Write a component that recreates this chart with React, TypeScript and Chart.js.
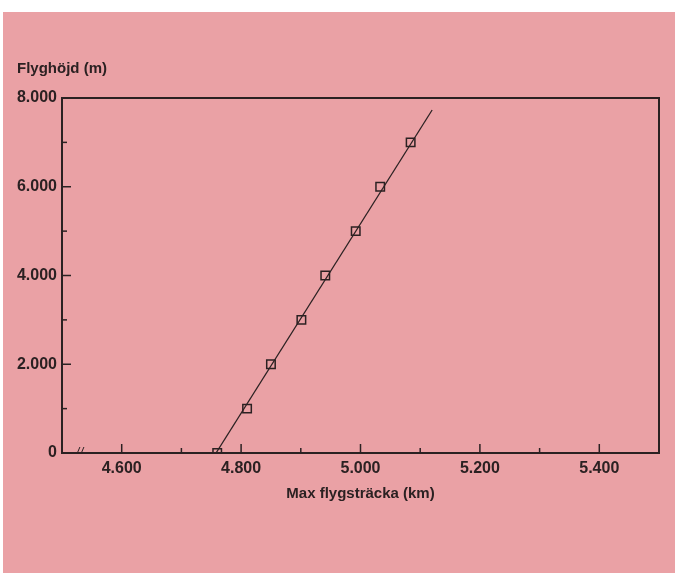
import React, { useEffect, useRef } from 'react';
import { Chart, registerables } from 'chart.js';

Chart.register(...registerables);

// ---- data ----
const altitudes = [0, 1000, 2000, 3000, 4000, 5000, 6000, 7000];
const distances = [4760, 4810, 4850, 4901, 4941, 4992, 5033, 5084];
const fitLineDistances = [4758, 5120];
const fitLineAltitudes = [0, 7730];
const xMajorTicks = [4600, 4800, 5000, 5200, 5400];
const xMinorTicks = [4700, 4900, 5100, 5300];
const yMajorTicks = [0, 2000, 4000, 6000, 8000];
const yMinorTicks = [1000, 3000, 5000, 7000];
const axisBreakAt = 4530;
const yTitle = 'Flyghöjd (m)';
const xTitle = 'Max flygsträcka (km)';

const INK = '#2b2122';
const FONT = '"Liberation Sans", Arial, sans-serif';

function fmt(v: number): string {
  const s = String(Math.round(v));
  return v >= 1000 ? s.slice(0, -3) + '.' + s.slice(-3) : s;
}

const framePlugin = {
  id: 'frameTicks',
  afterDraw(chart: any) {
    const { ctx, chartArea, scales } = chart;
    const xs = scales.x;
    const ys = scales.y;
    const { left, right, top, bottom } = chartArea;
    ctx.save();
    ctx.strokeStyle = INK;
    ctx.lineWidth = 2;
    ctx.strokeRect(left, top, right - left, bottom - top);
    ctx.lineWidth = 1.5;
    const tick = (x1: number, y1: number, x2: number, y2: number) => {
      ctx.beginPath();
      ctx.moveTo(x1, y1);
      ctx.lineTo(x2, y2);
      ctx.stroke();
    };
    xMajorTicks.forEach((v) => { const px = xs.getPixelForValue(v); tick(px, bottom, px, bottom - 9); });
    xMinorTicks.forEach((v) => { const px = xs.getPixelForValue(v); tick(px, bottom, px, bottom - 5); });
    yMajorTicks.slice(1, -1).forEach((v) => { const py = ys.getPixelForValue(v); tick(left, py, left + 9, py); });
    yMinorTicks.forEach((v) => { const py = ys.getPixelForValue(v); tick(left, py, left + 5, py); });
    // axis break marks
    const bx = xs.getPixelForValue(axisBreakAt);
    ctx.lineWidth = 1;
    tick(bx - 3, bottom + 1, bx, bottom - 6);
    tick(bx + 1, bottom + 1, bx + 4, bottom - 6);
    // y axis title
    ctx.fillStyle = INK;
    ctx.font = `bold 15px ${FONT}`;
    ctx.textBaseline = 'middle';
    ctx.textAlign = 'left';
    ctx.fillText(yTitle, 17, 69);
    ctx.restore();
  },
};

export default function App() {
  const ref = useRef<HTMLCanvasElement>(null);

  useEffect(() => {
    if (!ref.current) return;
    const chart = new Chart(ref.current, {
      type: 'scatter',
      data: {
        datasets: [
          {
            label: 'fit',
            data: fitLineDistances.map((x, i) => ({ x, y: fitLineAltitudes[i] })),
            showLine: true,
            borderColor: INK,
            borderWidth: 1.3,
            pointRadius: 0,
            backgroundColor: 'transparent',
          },
          {
            label: 'data',
            data: distances.map((x, i) => ({ x, y: altitudes[i] })),
            pointStyle: 'rect',
            pointRadius: 6,
            borderColor: INK,
            borderWidth: 1.5,
            backgroundColor: 'transparent',
          },
        ],
      },
      options: {
        animation: false,
        responsive: false,
        layout: { padding: { top: 98, right: 16, left: 0, bottom: 70 } },
        plugins: { legend: { display: false }, tooltip: { enabled: false }, title: { display: false } },
        scales: {
          x: {
            type: 'linear',
            position: 'bottom',
            min: 4500,
            max: 5500,
            grid: { display: false, drawTicks: false, tickLength: 0 },
            border: { display: false },
            ticks: {
              color: INK,
              font: { family: FONT, size: 16, weight: 'bold' },
              padding: 6,
              maxRotation: 0,
              autoSkip: false,
              callback: (v: any) => fmt(Number(v)),
            },
            afterBuildTicks: (scale: any) => {
              scale.ticks = xMajorTicks.map((value) => ({ value }));
            },
            afterFit: (scale: any) => {
              scale.height = 50;
            },
            title: {
              display: true,
              text: xTitle,
              color: INK,
              font: { family: FONT, size: 15, weight: 'bold' },
              padding: 0,
            },
          },
          y: {
            type: 'linear',
            min: 0,
            max: 8000,
            grid: { display: false, drawTicks: false, tickLength: 0 },
            border: { display: false },
            ticks: {
              color: INK,
              font: { family: FONT, size: 16, weight: 'bold' },
              padding: 5,
              autoSkip: false,
              callback: (v: any) => fmt(Number(v)),
            },
            afterBuildTicks: (scale: any) => {
              scale.ticks = yMajorTicks.map((value) => ({ value }));
            },
            afterFit: (scale: any) => {
              scale.width = 62;
            },
          },
        },
      },
      plugins: [framePlugin],
    });
    return () => chart.destroy();
  }, []);

  return (
    <div style={{ position: 'fixed', left: 0, top: 0, width: 675, height: 573, background: '#ffffff', overflow: 'hidden' }}>
      <div style={{ position: 'absolute', left: 3, top: 12, right: 0, bottom: 0, background: '#eaa1a5' }} />
      <canvas ref={ref} width={675} height={573} style={{ position: 'absolute', left: 0, top: 0, width: 675, height: 573 }} />
    </div>
  );
}
